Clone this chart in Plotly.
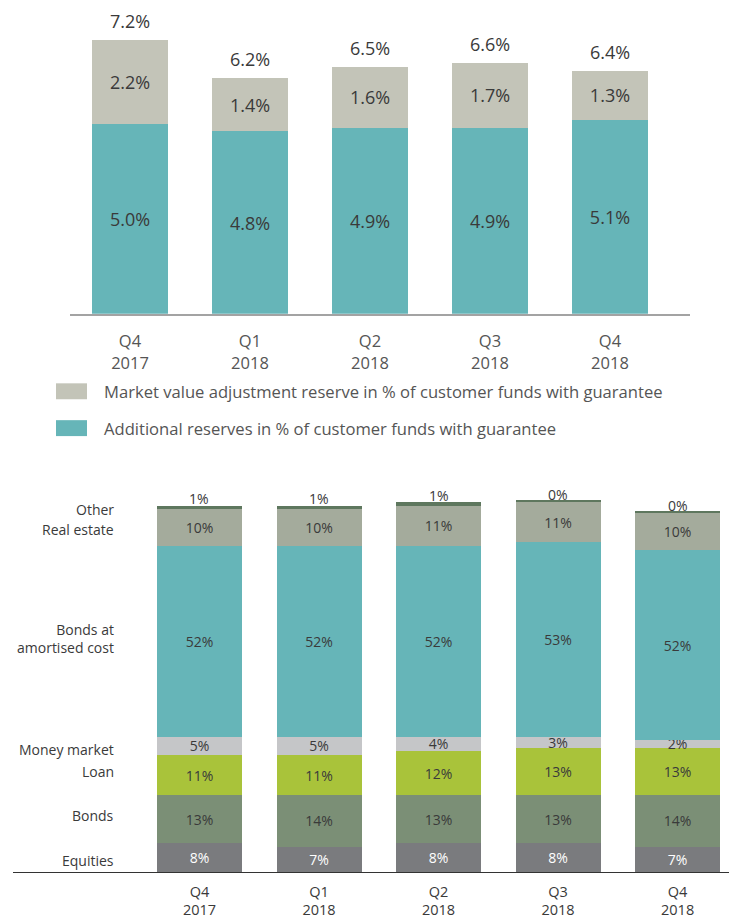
import plotly.graph_objects as go

W, H = 729, 919

# ---------------- data ----------------
quarters = ["Q4<br>2017", "Q1<br>2018", "Q2<br>2018", "Q3<br>2018", "Q4<br>2018"]

# top chart
reserve_names = ["Additional reserves in % of customer funds with guarantee",
                 "Market value adjustment reserve in % of customer funds with guarantee"]
additional = [5.0, 4.8, 4.9, 4.9, 5.1]
mvar = [2.2, 1.4, 1.6, 1.7, 1.3]
totals = [7.2, 6.2, 6.5, 6.6, 6.4]

# bottom chart (bottom to top)
asset_names = ["Equities", "Bonds", "Loan", "Money market", "Bonds at<br>amortised cost",
               "Real estate", "Other"]
equities = [8, 7, 8, 8, 7]
bonds = [13, 14, 13, 13, 14]
loan = [11, 11, 12, 13, 13]
money_market = [5, 5, 4, 3, 2]
bonds_amortised = [52, 52, 52, 53, 52]
real_estate = [10, 10, 11, 11, 10]
other = [1, 1, 1, 0.3, 0.3]
other_labels = ["1%", "1%", "1%", "0%", "0%"]

# ---------------- styling ----------------
FONT = "Open Sans"
TXT = "#3a3a3a"
TEAL = "#66B5B8"
GREY_TOP = "#C3C4B8"
asset_colors = ["#7A7B7E", "#7B8F76", "#A9C33A", "#C5C6C8", TEAL, "#A4AB9C", "#5E775E"]
asset_text_colors = ["#ffffff", TXT, TXT, TXT, TXT, TXT, TXT]

def py(p):  # pixel y -> paper
    return 1 - p / H

def px(p):
    return p / W

fig = go.Figure()

# top chart
fig.add_trace(go.Bar(x=list(range(5)), y=additional, name=reserve_names[0],
                     marker=dict(color=TEAL, line=dict(width=0)),
                     text=[f"{v:.1f}%" for v in additional], textposition="inside",
                     insidetextanchor="middle", textangle=0,
                     textfont=dict(family=FONT, size=18, color=TXT),
                     xaxis="x", yaxis="y", showlegend=False))
fig.add_trace(go.Bar(x=list(range(5)), y=mvar, name=reserve_names[1],
                     marker=dict(color=GREY_TOP, line=dict(width=0)),
                     text=[f"{v:.1f}%" for v in mvar], textposition="inside",
                     insidetextanchor="middle", textangle=0,
                     textfont=dict(family=FONT, size=18, color=TXT),
                     xaxis="x", yaxis="y", showlegend=False))

# bottom chart
series = [equities, bonds, loan, money_market, bonds_amortised, real_estate, other]
for i, (name, vals) in enumerate(zip(asset_names, series)):
    last = i == len(series) - 1
    fig.add_trace(go.Bar(x=list(range(5)), y=vals, name=name.replace("<br>", " "),
                         marker=dict(color=asset_colors[i], line=dict(width=0)),
                         text=None if last else [f"{v}%" for v in vals],
                         textposition="none" if last else "inside",
                         insidetextanchor="middle", textangle=0, cliponaxis=False,
                         textfont=dict(family=FONT, size=14, color=asset_text_colors[i]),
                         xaxis="x2", yaxis="y2", showlegend=False))

annotations = []
# totals above top bars
for i, t in enumerate(totals):
    annotations.append(dict(x=i, y=t, xref="x", yref="y", text=f"{t:.1f}%",
                            showarrow=False, yanchor="bottom", yshift=5,
                            font=dict(family=FONT, size=18, color=TXT)))

# "Other" labels just above the bottom bars
stack_tops = [sum(s[j] for s in series) for j in range(5)]
for j, lab in enumerate(other_labels):
    annotations.append(dict(x=j, y=stack_tops[j], xref="x2", yref="y2", text=lab,
                            showarrow=False, yanchor="middle", yshift=7,
                            font=dict(family=FONT, size=14, color=TXT)))

# legend (drawn manually for exact square sizes)
shapes = []
leg_rows = [(393, GREY_TOP, reserve_names[1]), (430, TEAL, reserve_names[0])]
for yc, col, name in leg_rows:
    shapes.append(dict(type="rect", xref="paper", yref="paper",
                       x0=px(56), x1=px(87), y0=py(yc + 8), y1=py(yc - 8),
                       fillcolor=col, line=dict(width=0)))
    annotations.append(dict(x=px(102), y=py(yc), xref="paper", yref="paper",
                            text=name, showarrow=False, xanchor="left", yanchor="middle",
                            font=dict(family=FONT, size=16.6, color="#555555")))

# left category labels for bottom chart, at the middle of first bar's segments
cum = 0
shifts = [-3, 4, 4, -4, 3, -2, -2]
for i, (name, vals) in enumerate(zip(asset_names, series)):
    mid = cum + vals[0] / 2
    cum += vals[0]
    annotations.append(dict(x=px(116), y=mid, xref="paper", yref="y2", text=name,
                            showarrow=False, xanchor="right", yanchor="middle",
                            yshift=shifts[i], align="right",
                            font=dict(family=FONT, size=14, color=TXT)))

fig.update_layout(
    width=W, height=H,
    margin=dict(l=0, r=0, t=0, b=0),
    paper_bgcolor="white", plot_bgcolor="white",
    barmode="stack", bargap=0.367,
    uniformtext=dict(mode=False),
    font=dict(family=FONT, color=TXT),
    xaxis=dict(domain=[px(70), px(690)], range=[-0.5, 4.667],
               tickmode="array", tickvals=list(range(5)), ticktext=quarters,
               showline=True, linecolor="#a3a3a3", linewidth=1.5,
               showgrid=False, zeroline=False, ticks="", ticklabelstandoff=12,
               tickfont=dict(family=FONT, size=16.5, color="#555555"), anchor="y"),
    yaxis=dict(domain=[py(315), py(10)], range=[0, 8], visible=False,
               showgrid=False, zeroline=False, anchor="x"),
    xaxis2=dict(domain=[px(13), 1], range=[-1.56, 4.43],
                tickmode="array", tickvals=list(range(5)), ticktext=quarters,
                showline=True, linecolor="#333333", linewidth=1,
                showgrid=False, zeroline=False, ticks="", ticklabelstandoff=6,
                tickfont=dict(family=FONT, size=14.5, color=TXT), anchor="y2"),
    yaxis2=dict(domain=[py(876), py(489.6)], range=[0, 105], visible=False,
                showgrid=False, zeroline=False, anchor="x2"),
    annotations=annotations, shapes=shapes,
)
fig.update_traces(constraintext="none")
# per-subplot bar width via offset/width
for tr in fig.data:
    if tr.xaxis == "x2":
        tr.width = 0.711
        tr.offset = -0.3555

post = ("var d=document.getElementById('{plot_id}');"
        "d.style.display='block';"
        "if(d.parentNode){d.parentNode.style.height='919px';d.parentNode.style.overflow='hidden';}"
        "document.documentElement.style.margin='0';document.body.style.margin='0';"
        "document.body.style.padding='0';document.body.style.height='919px';"
        "document.body.style.overflow='hidden';document.documentElement.style.overflow='hidden';"
        "window.scrollTo(0,0);")
fig.write_html("out.html", config={"displayModeBar": False}, post_script=post)
